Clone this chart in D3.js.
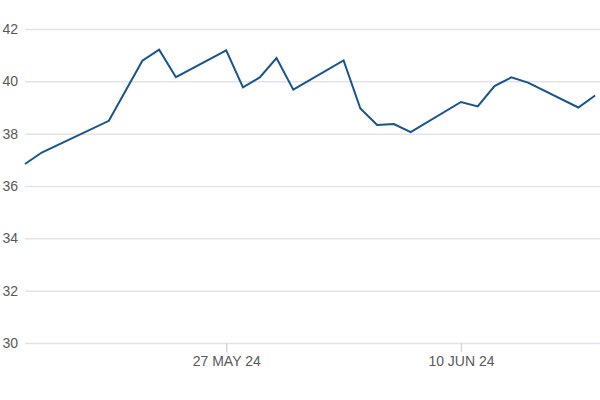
<!DOCTYPE html>
<html lang="en">
<head>
	<meta charset="UTF-8">
	<title>Price chart</title>
	<script src="https://cdn.jsdelivr.net/npm/d3@7"></script>
	<style type="text/css">
		body { margin: 0; background: #fff; }
		.tick text { font-family: "Liberation Sans", Arial, sans-serif; font-size: 14px; fill: #595959; }
		.grid line { stroke: #e3e3ea; stroke-width: 1.5; }
		.line { fill: none; stroke: #16538f; stroke-width: 2; }
	</style>
</head>
<body>
<script type="text/javascript">
	var dates = ['2024-05-15', '2024-05-16', '2024-05-20', '2024-05-22', '2024-05-23', '2024-05-24',
		'2024-05-27', '2024-05-28', '2024-05-29', '2024-05-30', '2024-05-31', '2024-06-03',
		'2024-06-04', '2024-06-05', '2024-06-06', '2024-06-07', '2024-06-10', '2024-06-11',
		'2024-06-12', '2024-06-13', '2024-06-14', '2024-06-17', '2024-06-18'];
	var values = [36.84, 37.28, 38.49, 40.79, 41.21, 40.16,
		41.18, 39.77, 40.15, 40.89, 39.68, 40.80,
		38.96, 38.33, 38.37, 38.06, 39.21, 39.04,
		39.82, 40.15, 39.95, 39.00, 39.46];
	var yTicks = [30, 32, 34, 36, 38, 40, 42];
	var xTicks = ['2024-05-27', '2024-06-10'];

	window.onload = function () {
		var width = 600, height = 400;
		var margin = {top: 29, left: 25, bottom: 57, right: 0};

		var parse = d3.utcParse('%Y-%m-%d');
		var fmt = d3.utcFormat('%d %b %y');

		var data = dates.map(function (d, i) {
			return {date: parse(d), value: values[i]};
		});

		var x = d3.scaleUtc()
			.domain([parse('2024-05-15'), new Date(Date.UTC(2024, 5, 18, 7))])
			.range([margin.left, width - margin.right]);

		var y = d3.scaleLinear()
			.domain([30, 42])
			.range([height - margin.bottom, margin.top]);

		var svg = d3.select('body').append('svg')
			.attr('width', width)
			.attr('height', height);

		// horizontal grid + y labels
		svg.append('g')
			.attr('class', 'grid')
			.attr('transform', 'translate(' + margin.left + ',0)')
			.call(d3.axisLeft(y).tickValues(yTicks).tickSize(-(width - margin.left - margin.right)).tickPadding(7))
			.call(function (g) { g.select('.domain').remove(); });

		// x axis
		var xa = svg.append('g')
			.attr('transform', 'translate(0,' + (height - margin.bottom) + ')')
			.call(d3.axisBottom(x)
				.tickValues(xTicks.map(parse))
				.tickSize(9)
				.tickPadding(4)
				.tickFormat(function (d) { return fmt(d).toUpperCase(); }));
		xa.select('.domain').remove();
		xa.selectAll('.tick line').attr('stroke', '#d6d6df').attr('stroke-width', 1.5);

		var line = d3.line()
			.x(function (d) { return x(d.date); })
			.y(function (d) { return y(d.value); });

		svg.append('path')
			.datum(data)
			.attr('class', 'line')
			.attr('d', line);
	};
</script>
</body>
</html>
